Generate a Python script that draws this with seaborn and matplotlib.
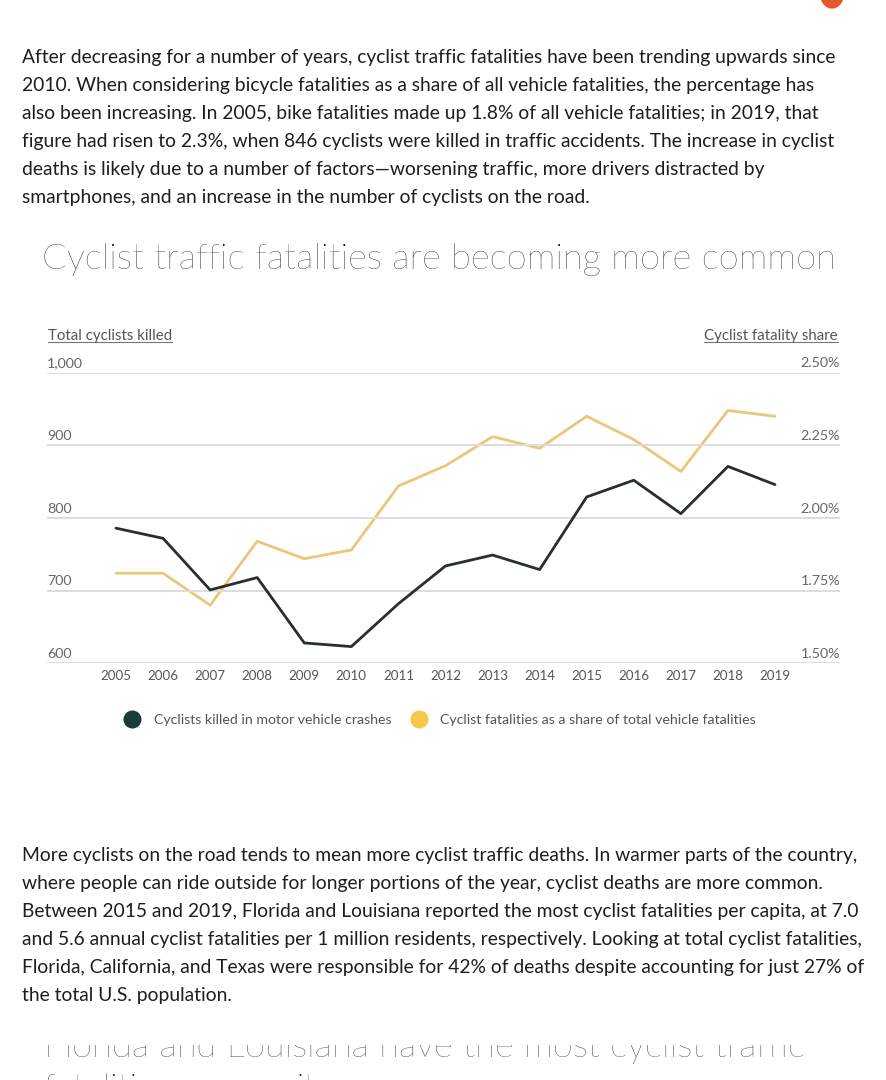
import matplotlib
matplotlib.use("Agg")
import matplotlib.pyplot as plt
from matplotlib.lines import Line2D
from matplotlib.patches import Rectangle, Circle
import seaborn as sns
import pandas as pd

years = list(range(2005, 2020))
cyclists_killed = [786, 772, 701, 718, 628, 623, 682, 734, 749, 729, 829, 852, 806, 871, 846]
fatality_share = [1.81, 1.81, 1.70, 1.92, 1.86, 1.89, 2.11, 2.18, 2.28, 2.24, 2.35, 2.27, 2.16, 2.37, 2.35]
left_ticks = [600, 700, 800, 900, 1000]
left_tick_labels = ["600", "700", "800", "900", "1,000"]
right_ticks = [1.50, 1.75, 2.00, 2.25, 2.50]
right_tick_labels = ["1.50%", "1.75%", "2.00%", "2.25%", "2.50%"]

title = "Cyclist traffic fatalities are becoming more common"
left_axis_title = "Total cyclists killed"
right_axis_title = "Cyclist fatality share"
series_names = ["Cyclists killed in motor vehicle crashes",
                "Cyclist fatalities as a share of total vehicle fatalities"]
para1 = [
    "After decreasing for a number of years, cyclist traffic fatalities have been trending upwards since",
    "2010. When considering bicycle fatalities as a share of all vehicle fatalities, the percentage has",
    "also been increasing. In 2005, bike fatalities made up 1.8% of all vehicle fatalities; in 2019, that",
    "figure had risen to 2.3%, when 846 cyclists were killed in traffic accidents. The increase in cyclist",
    "deaths is likely due to a number of factors\u2014worsening traffic, more drivers distracted by",
    "smartphones, and an increase in the number of cyclists on the road.",
]
para2 = [
    "More cyclists on the road tends to mean more cyclist traffic deaths. In warmer parts of the country,",
    "where people can ride outside for longer portions of the year, cyclist deaths are more common.",
    "Between 2015 and 2019, Florida and Louisiana reported the most cyclist fatalities per capita, at 7.0",
    "and 5.6 annual cyclist fatalities per 1 million residents, respectively. Looking at total cyclist fatalities,",
    "Florida, California, and Texas were responsible for 42% of deaths despite accounting for just 27% of",
    "the total U.S. population.",
]
next_heading = ["Florida and Louisiana have the most cyclist traffic", "fatalities per capita"]

sns.set_theme(style="white")
plt.rcParams["font.family"] = ["Lato", "DejaVu Sans"]

W, H = 886, 1080
fig = plt.figure(figsize=(W / 100, H / 100), dpi=100)
fig.patch.set_facecolor("white")

def fx(px):
    return px / W

def fy(py):
    return 1 - py / H

BODY = "#1e1e1e"
DARK = "#27302e"
GOLD = "#eac77a"
BODY_FS = 13.85
HEAD_FS = 26.2

# top-right orange dot (partially off-screen)
fig.patches.append(Circle((fx(832), fy(-6)), 12 / W, transform=fig.transFigure,
                          facecolor="#e8542c", edgecolor="none"))

# paragraph 1
for i, line in enumerate(para1):
    fig.text(fx(22), fy(57 + i * 28.2), line, fontsize=BODY_FS, color=BODY, va="center", ha="left")

# chart title
fig.text(fx(42), fy(259), title, fontsize=HEAD_FS, color="#000000", va="center", ha="left",
         fontweight="light")

# axes
x_left_px, x_right_px = 47, 840
y_top_px, y_bot_px = 372.7, 663.3
px_per_year = (775 - 116) / 14
ax = fig.add_axes([fx(x_left_px), fy(y_bot_px), (x_right_px - x_left_px) / W, (y_bot_px - y_top_px) / H])
ax.set_xlim(2005 - (116 - x_left_px) / px_per_year, 2019 + (x_right_px - 775) / px_per_year)
ax.set_ylim(600, 1000)
ax2 = ax.twinx()
ax2.set_ylim(1.5, 2.5)

df = pd.DataFrame({"year": years, "killed": cyclists_killed, "share": fatality_share})
for y in left_ticks:
    ax.axhline(y, color="#dddddd", lw=1.4, zorder=0)
sns.lineplot(data=df, x="year", y="share", ax=ax2, color=GOLD, lw=2.0, zorder=2)
sns.lineplot(data=df, x="year", y="killed", ax=ax, color=DARK, lw=2.0, zorder=3)
ax.set_zorder(ax2.get_zorder() + 1)
ax.patch.set_visible(False)

for a in (ax, ax2):
    for s in a.spines.values():
        s.set_visible(False)
    a.set_ylabel("")
    a.set_xlabel("")
    a.set_yticks([])
ax.set_xticks(years)
ax.set_xticklabels([str(y) for y in years], fontsize=9.6, color="#555555")
ax.tick_params(axis="x", length=0, pad=5)

for v, lab in zip(left_ticks, left_tick_labels):
    ax.annotate(lab, xy=(0, v), xycoords=("axes fraction", "data"), xytext=(0, 2.5),
                textcoords="offset points", ha="left", va="bottom", fontsize=10.3, color="#666666")
for v, lab in zip(right_ticks, right_tick_labels):
    ax2.annotate(lab, xy=(1, v), xycoords=("axes fraction", "data"), xytext=(0, 2.5),
                 textcoords="offset points", ha="right", va="bottom", fontsize=10.3, color="#666666")

# axis titles (underlined)
t1 = fig.text(fx(48), fy(336), left_axis_title, fontsize=10.8, color="#555555", va="center", ha="left")
t2 = fig.text(fx(838), fy(336), right_axis_title, fontsize=10.8, color="#555555", va="center", ha="right")
fig.canvas.draw()
r = fig.canvas.get_renderer()
for t in (t1, t2):
    bb = t.get_window_extent(r)
    yb = bb.y0 + 1.0
    fig.add_artist(Line2D([bb.x0 / W, bb.x1 / W], [yb / H, yb / H], transform=fig.transFigure,
                          color="#777777", lw=0.8))

# legend
handles = [Line2D([], [], marker="o", ls="none", markersize=13, markerfacecolor="#1d3b39",
                  markeredgecolor="none"),
           Line2D([], [], marker="o", ls="none", markersize=13, markerfacecolor="#f3c94a",
                  markeredgecolor="none")]
fig.legend(handles, series_names, loc="center left", bbox_to_anchor=(fx(118), fy(720)),
           ncol=2, frameon=False, fontsize=10.2, handletextpad=0.55, columnspacing=0.9,
           labelcolor="#555555", borderaxespad=0, borderpad=0)

# paragraph 2
for i, line in enumerate(para2):
    fig.text(fx(22), fy(855 + i * 28.0), line, fontsize=BODY_FS, color=BODY, va="center", ha="left")

# next heading, partially hidden by the page above it
fig.text(fx(44), fy(1057), next_heading[0], fontsize=HEAD_FS, color="#1a1a1a", va="baseline",
         ha="left", fontweight="light")
fig.text(fx(44), fy(1099), next_heading[1], fontsize=HEAD_FS, color="#1a1a1a", va="baseline",
         ha="left", fontweight="light")
fig.patches.append(Rectangle((0, fy(1045)), 1, (1045 - 1012) / H, transform=fig.transFigure,
                             facecolor="white", edgecolor="none", zorder=10))

fig.savefig("out.png", dpi=100, facecolor="white")
